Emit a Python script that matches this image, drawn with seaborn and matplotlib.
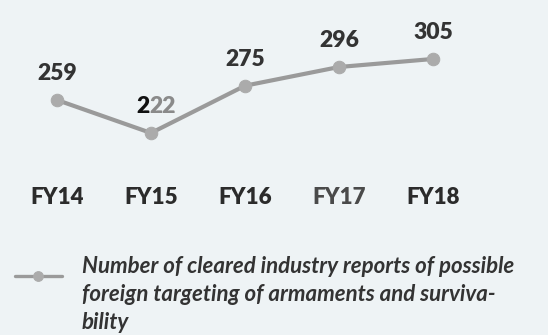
import matplotlib
matplotlib.use("Agg")
import matplotlib.pyplot as plt
from matplotlib.legend_handler import HandlerLine2D
import seaborn as sns
import pandas as pd

years = ["FY14", "FY15", "FY16", "FY17", "FY18"]
reports = [259, 222, 275, 296, 305]
series_label = ("Number of cleared industry reports of possible\n"
                "foreign targeting of armaments and surviva-\n"
                "bility")

BG = "#eef3f5"
LINE = "#9a9a9a"
MARK = "#ababab"
TXT = "#333333"

sns.set_theme(style="white")
plt.rcParams["font.family"] = ["Lato", "DejaVu Sans"]

fig = plt.figure(figsize=(5.48, 3.35), dpi=100, facecolor=BG)
ax = fig.add_axes([10 / 548, (335 - 170) / 335, 470 / 548, 150 / 335])
ax.set_facecolor(BG)

df = pd.DataFrame({"year": years, "reports": reports})
sns.lineplot(data=df, x="year", y="reports", ax=ax, color=LINE, linewidth=3.0,
             marker="o", markersize=9, markerfacecolor=MARK,
             markeredgecolor=MARK, label="_s")

ax.set_xlim(-0.5, 4.5)
ax.set_ylim(180.5, 348.7)
ax.set_yticks([])
ax.set_xlabel("")
ax.set_ylabel("")
for s in ax.spines.values():
    s.set_visible(False)
ax.tick_params(axis="x", length=0, pad=12)
for lab in ax.get_xticklabels():
    lab.set_fontsize(16)
    lab.set_fontweight(800)
    lab.set_color("#2b2b2b")
ax.get_xticklabels()[3].set_color("#4a4a4a")

NUM_FS = 16.5
for i, v in enumerate(reports):
    if v == 222:
        t = ax.annotate("2", (i, v), xytext=(-6, 19), textcoords="offset points",
                        ha="center", va="center", fontsize=NUM_FS,
                        fontweight=800, color="#111111")
        ax.annotate("22", xy=(1, 0.5), xycoords=t, xytext=(0, 0),
                    textcoords="offset points", ha="left", va="center",
                    fontsize=NUM_FS, fontweight=800, color="#8a8a8a")
    else:
        ax.annotate(str(v), (i, v), xytext=(0, 19), textcoords="offset points",
                    ha="center", va="center", fontsize=NUM_FS,
                    fontweight=800, color=TXT)


def _thin(handle, orig):
    handle.update_from(orig)
    handle.set_linewidth(2.4)
    handle.set_markersize(7)


line = ax.get_lines()[0]
leg = fig.legend([line], [" "], loc="center left",
                 bbox_to_anchor=(15 / 548, 1 - 277 / 335), frameon=False,
                 handlelength=2.4, fontsize=14, borderpad=0, borderaxespad=0,
                 handletextpad=0,
                 handler_map={line: HandlerLine2D(update_func=_thin)})
fig.text(82 / 548, 1 - 329 / 335, series_label, ha="left", va="baseline",
         fontsize=16, fontweight="bold", fontstyle="italic", color=TXT,
         linespacing=1.40)

fig.savefig("out.png", dpi=100, facecolor=BG)
